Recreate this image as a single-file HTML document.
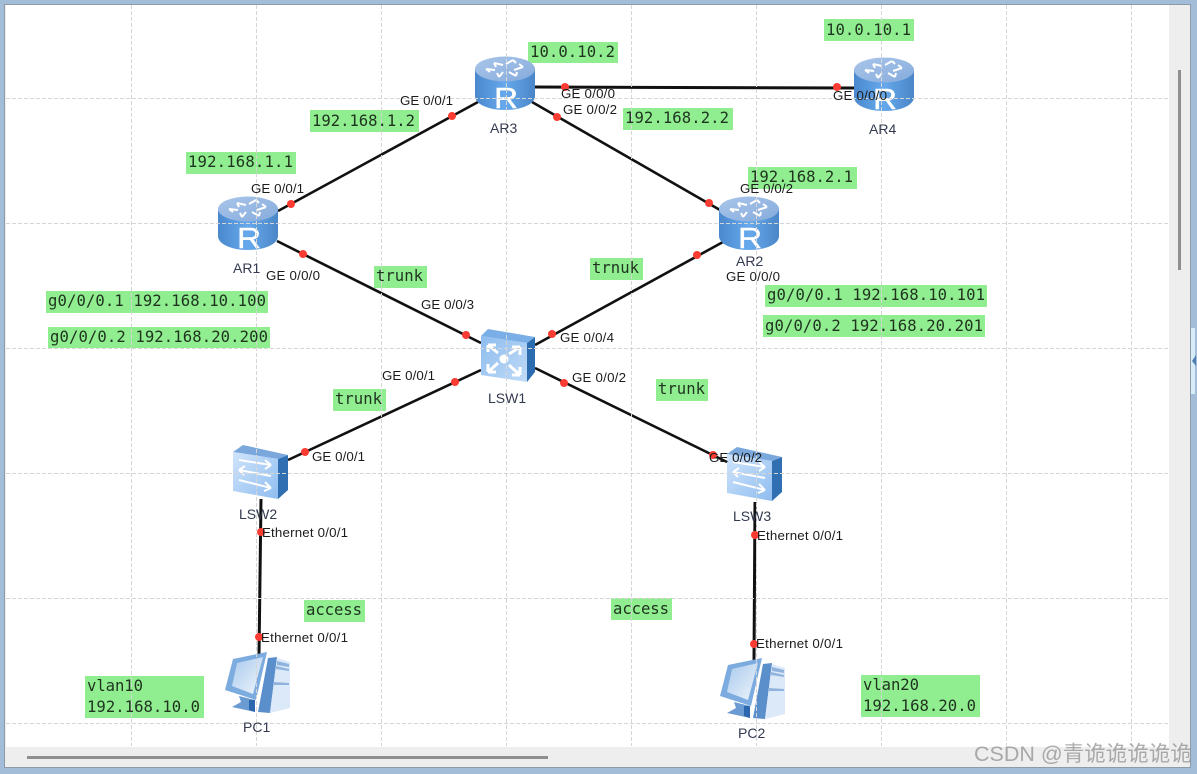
<!DOCTYPE html>
<html><head><meta charset="utf-8"><style>
html,body{margin:0;padding:0;background:#fff}
svg{display:block}
.g{font:15.6px "DejaVu Sans Mono","Liberation Mono",monospace;fill:#1f331f}
.l{font:13.3px "Liberation Sans",sans-serif;fill:#1c1c1c}
.n{font:14px "Liberation Sans",sans-serif;fill:#333a50}
.r{font:29px "Liberation Sans",sans-serif;fill:#fff;stroke:#fff;stroke-width:.4}
</style></head><body>
<svg width="1197" height="774" viewBox="0 0 1197 774" xmlns="http://www.w3.org/2000/svg">
<defs>
<linearGradient id="rb" x1="0" x2="1" y1="0" y2="0"><stop offset="0" stop-color="#4b88cd"/><stop offset=".5" stop-color="#66a9ec"/><stop offset="1" stop-color="#4a86c8"/></linearGradient>
<linearGradient id="rt" x1="0" x2="1" y1="0" y2="1"><stop offset="0" stop-color="#aac6ea"/><stop offset="1" stop-color="#85abdc"/></linearGradient>
<linearGradient id="sw" x1="0" x2="1" y1="0" y2="1"><stop offset="0" stop-color="#cfe4fb"/><stop offset="1" stop-color="#8fbdf0"/></linearGradient>
<linearGradient id="sc" x1="0" x2="1" y1="0" y2="1"><stop offset="0" stop-color="#8dbcee"/><stop offset="1" stop-color="#c0dbf7"/></linearGradient>
<linearGradient id="scr" x1="0" x2="1" y1="0" y2="1"><stop offset="0" stop-color="#a9c9ec"/><stop offset="1" stop-color="#eef5fc"/></linearGradient>
<symbol id="router" viewBox="0 0 60 54" overflow="visible">
<path d="M0 13V40C0 48 13 54 30 54S60 48 60 40V13Z" fill="url(#rb)"/>
<ellipse cx="30" cy="13" rx="30" ry="12.500" fill="url(#rt)"/>
<g stroke="#fff" stroke-width="2" fill="none">
<path d="M19 7l9 2M19 7l2 4M38 4l-7 4M38 4l3 3M11 13l9 1M11 13l4 3M48 11l-9 3M48 11l-4-3M24 21l4-5M24 21l-2-4M41 20l-7-4M41 20l1-4"/>
</g>
</symbol>
<symbol id="sw2" viewBox="0 0 55 54" overflow="visible">
<path d="M45 14L55 10V45L45 54Z" fill="#2f6fb2"/>
<path d="M0 7L10 0L55 10L45 14Z" fill="#7aa8dc"/>
<path d="M0 7L45 14V54L0 46Z" fill="url(#sw)"/>
<g stroke="#fff" stroke-width="2" fill="none">
<path d="M6 15L38 20M38 20l-6-5M38 20l-6 4"/>
<path d="M38 31L6 25M6 25l6-4M6 25l5 5"/>
<path d="M6 35L38 43M38 43l-6-6M38 43l-7 3"/>
</g>
</symbol>
<symbol id="sw3" viewBox="0 0 54 53" overflow="visible">
<path d="M46 14L54 8V43L46 53Z" fill="#2b6cb0"/>
<path d="M0 7L7 0L54 8L46 14Z" fill="#7aaee6"/>
<path d="M0 7L46 14V53L0 46Z" fill="url(#sc)"/>
<g stroke="#fff" stroke-width="3" fill="none">
<path d="M7 16L17 24M7 16h8M7 16v7M39 18L28 25M39 18h-8M39 18v8M7 43L17 34M7 43h8M7 43v-8M39 46L28 36M39 46h-8M39 46v-8"/>
</g>
<circle cx="23" cy="30" r="4.500" fill="#fff"/>
</symbol>
<symbol id="pc" viewBox="0 0 65 63" overflow="visible">
<path d="M43 6L52 5L45 61L33 60Z" fill="#5b8fcb"/>
<path d="M52 6L65 10V56L45 61Z" fill="#dbe9f9"/>
<path d="M52 9L64 12V15L52 13ZM51 14L64 17V19L51 17ZM49 30L64 31V33L49 33Z" fill="#8fb3dc"/>
<path d="M8 7L42 0L31 48L0 38Z" fill="#7cabdf"/>
<path d="M12 11L38 5L28 42L7 34Z" fill="url(#scr)"/>
<path d="M14 44L30 48V60L7 55L16 50Z" fill="#6a9bd3"/>
<path d="M24 48L30 48V60L24 58Z" fill="#2c66ae"/>
</symbol>
</defs>

<rect width="1197" height="774" fill="#a3bdd8"/>
<rect x="4" y="4" width="1187" height="764" fill="#8d9aa8"/>
<rect x="5" y="5" width="1185" height="762" fill="#eeeeee"/>
<rect x="6" y="5" width="1163" height="742" fill="#fff"/>

<g fill="#90ee90">
<rect x="186" y="152" width="110" height="22"/>
<rect x="310" y="110" width="109" height="22"/>
<rect x="528" y="42" width="90" height="21"/>
<rect x="824" y="19" width="90" height="22"/>
<rect x="623" y="108" width="110" height="22"/>
<rect x="748" y="167" width="109" height="22"/>
<rect x="374" y="266" width="53" height="22"/>
<rect x="590" y="258" width="53" height="22"/>
<rect x="46" y="291" width="222" height="22"/>
<rect x="48" y="327" width="222" height="21"/>
<rect x="765" y="285" width="222" height="22"/>
<rect x="763" y="315" width="222" height="22"/>
<rect x="333" y="389" width="53" height="22"/>
<rect x="656" y="379" width="52" height="22"/>
<rect x="304" y="600" width="61" height="22"/>
<rect x="611" y="598" width="61" height="22"/>
<rect x="85" y="676" width="119" height="42"/>
<rect x="861" y="675" width="119" height="42"/>
</g>

<g stroke="#111" stroke-width="2.600" fill="none">
<path d="M278 211L478 102"/>
<path d="M534 87L855 88" stroke-width="3"/>
<path d="M532 102L720 210"/>
<path d="M277 241L481 343"/>
<path d="M723 242L535 345"/>
<path d="M481 370L288 460"/>
<path d="M535 368L727 462"/>
<path d="M261 499L259 655" stroke-width="3"/>
<path d="M755 502L754 660" stroke-width="3"/>
</g>

<use href="#router" x="218" y="196" width="60" height="54"/>
<use href="#router" x="475" y="56" width="60" height="54"/>
<use href="#router" x="719" y="196" width="60" height="54"/>
<use href="#router" x="854" y="57" width="60" height="54"/>
<text class="r" transform="translate(237 248) scale(1.150 1)">R</text>
<text class="r" transform="translate(494 108) scale(1.150 1)">R</text>
<text class="r" transform="translate(738 248) scale(1.150 1)">R</text>
<text class="r" transform="translate(873 109) scale(1.150 1)">R</text>
<use href="#sw3" x="481" y="329" width="54" height="53"/>
<use href="#sw2" x="233" y="445" width="55" height="54"/>
<use href="#sw2" x="727" y="447" width="55" height="54"/>
<use href="#pc" x="225" y="652" width="65" height="63"/>
<use href="#pc" x="720" y="658" width="65" height="63"/>

<g stroke="#d6d6d6" stroke-width="1" stroke-dasharray="4 2" fill="none">
<path d="M6 98.500H1168M6 223.500H1168M6 348.500H1168M6 473.500H1168M6 598.500H1168M6 723.500H1168"/>
<path d="M131.500 5V746M256.500 5V746M381.500 5V746M506.500 5V746M631.500 5V746M756.500 5V746M881.500 5V746M1006.500 5V746M1131.500 5V746"/>
</g>

<g fill="#fa3c32">
<circle cx="291" cy="204" r="4"/><circle cx="452" cy="116" r="4"/><circle cx="303" cy="254" r="4"/>
<circle cx="466" cy="335" r="4"/><circle cx="455" cy="382" r="4"/><circle cx="305" cy="452" r="4"/>
<circle cx="261" cy="532" r="4"/><circle cx="259" cy="637" r="4"/><circle cx="552" cy="334" r="4"/>
<circle cx="564" cy="383" r="4"/><circle cx="713" cy="455" r="4"/><circle cx="755" cy="535" r="4"/>
<circle cx="754" cy="644" r="4"/><circle cx="565" cy="87" r="4"/><circle cx="557" cy="117" r="4"/>
<circle cx="837" cy="87" r="4"/><circle cx="709" cy="203" r="4"/><circle cx="697" cy="255" r="4"/>
</g>

<g>
<text class="g" x="188" y="167" textLength="105">192.168.1.1</text>
<text class="g" x="312" y="126" textLength="103">192.168.1.2</text>
<text class="g" x="530" y="57" textLength="85">10.0.10.2</text>
<text class="g" x="826" y="35" textLength="85">10.0.10.1</text>
<text class="g" x="625" y="123" textLength="104">192.168.2.2</text>
<text class="g" x="750" y="182" textLength="103">192.168.2.1</text>
<text class="g" x="376" y="281" textLength="47">trunk</text>
<text class="g" x="592" y="273" textLength="47">trnuk</text>
<text class="g" x="48" y="306" textLength="218">g0/0/0.1 192.168.10.100</text>
<text class="g" x="50" y="342" textLength="218">g0/0/0.2 192.168.20.200</text>
<text class="g" x="767" y="300" textLength="218">g0/0/0.1 192.168.10.101</text>
<text class="g" x="765" y="331" textLength="218">g0/0/0.2 192.168.20.201</text>
<text class="g" x="335" y="404" textLength="47">trunk</text>
<text class="g" x="658" y="394" textLength="47">trunk</text>
<text class="g" x="306" y="615" textLength="56">access</text>
<text class="g" x="613" y="614" textLength="56">access</text>
<text class="g" x="87" y="691" textLength="56">vlan10</text>
<text class="g" x="87" y="712" textLength="113">192.168.10.0</text>
<text class="g" x="863" y="690" textLength="56">vlan20</text>
<text class="g" x="863" y="711" textLength="113">192.168.20.0</text>
</g>

<g>
<text class="l" x="400" y="105" textLength="53">GE 0/0/1</text>
<text class="l" x="251" y="193" textLength="53">GE 0/0/1</text>
<text class="l" x="266" y="280" textLength="54">GE 0/0/0</text>
<text class="l" x="421" y="309" textLength="53">GE 0/0/3</text>
<text class="l" x="560" y="342" textLength="54">GE 0/0/4</text>
<text class="l" x="382" y="380" textLength="53">GE 0/0/1</text>
<text class="l" x="312" y="461" textLength="53">GE 0/0/1</text>
<text class="l" x="572" y="382" textLength="54">GE 0/0/2</text>
<text class="l" x="709" y="462" textLength="53">GE 0/0/2</text>
<text class="l" x="561" y="98" textLength="54">GE 0/0/0</text>
<text class="l" x="563" y="114" textLength="54">GE 0/0/2</text>
<text class="l" x="833" y="100" textLength="54">GE 0/0/0</text>
<text class="l" x="740" y="193" textLength="53">GE 0/0/2</text>
<text class="l" x="726" y="281" textLength="54">GE 0/0/0</text>
<text class="l" x="262" y="537" textLength="86">Ethernet 0/0/1</text>
<text class="l" x="261" y="642" textLength="87">Ethernet 0/0/1</text>
<text class="l" x="757" y="540" textLength="86">Ethernet 0/0/1</text>
<text class="l" x="756" y="648" textLength="87">Ethernet 0/0/1</text>
<text class="n" x="490" y="133">AR3</text>
<text class="n" x="233" y="273">AR1</text>
<text class="n" x="736" y="266">AR2</text>
<text class="n" x="869" y="134">AR4</text>
<text class="n" x="488" y="403">LSW1</text>
<text class="n" x="239" y="519">LSW2</text>
<text class="n" x="733" y="521">LSW3</text>
<text class="n" x="243" y="732">PC1</text>
<text class="n" x="738" y="738">PC2</text>
</g>

<rect x="27" y="756" width="521" height="3" fill="#8f8f8f"/>
<rect x="1178" y="70" width="3" height="200" fill="#8f8f8f"/>
<rect x="1191" y="328" width="4" height="66" fill="#d8ecf8"/>
<path d="M1196 355L1192 361L1196 366Z" fill="#4f7fae"/>

<text x="974" y="761" font-family="'Liberation Sans','Noto Sans CJK SC',sans-serif" font-size="21.500" fill="#8a8a8a" fill-opacity=".7">CSDN @青诡诡诡诡诡</text>
</svg>
</body></html>
